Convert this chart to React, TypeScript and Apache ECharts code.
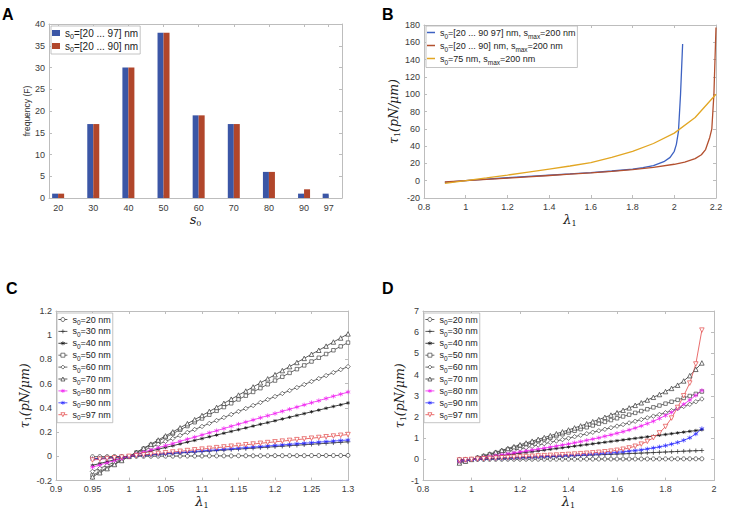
import React, { useEffect, useRef } from 'react';
import * as echarts from 'echarts';

// ---------- Panel A : histogram ----------
const aCategories = [20, 30, 40, 50, 60, 70, 80, 90, 97];
const aFreqTo97 = [1, 17, 30, 38, 19, 17, 6, 1, 1];
const aFreqTo90 = [1, 17, 30, 38, 19, 17, 6, 2, null];
const aNames = ['s0=[20 ... 97] nm', 's0=[20 ... 90] nm'];
const aYTicks = [0, 40, 5];

// ---------- Panel B : tension curves ----------
const bLamBlue = [0.9, 1.0, 1.1, 1.2, 1.3, 1.4, 1.5, 1.6, 1.7, 1.8, 1.85, 1.9, 1.95, 1.98, 2.0, 2.01, 2.02, 2.03, 2.04];
const bTauBlue = [-2, 0, 1.8, 3.4, 4.9, 6.3, 7.8, 9.4, 11.2, 13.5, 15, 17.5, 22, 27, 34, 42, 57, 100, 158];
const bLamRed = [0.9, 1.0, 1.1, 1.2, 1.3, 1.4, 1.5, 1.6, 1.7, 1.8, 1.9, 2.0, 2.05, 2.1, 2.13, 2.15, 2.17, 2.18, 2.19, 2.2];
const bTauRed = [-1.5, 0, 1.5, 3, 4.5, 6, 7.5, 9, 10.8, 12.8, 15.3, 19, 21.5, 25.5, 30, 36, 50, 60, 100, 177];
const bLamYellow = [0.9, 1.0, 1.1, 1.2, 1.3, 1.4, 1.5, 1.6, 1.7, 1.8, 1.9, 2.0, 2.1, 2.2];
const bTauYellow = [-3, 0, 3.2, 6.5, 10, 13.5, 17, 21, 27, 34, 43, 55, 73, 100];
const bNames = ['s0=[20 ... 90 97] nm, smax=200 nm', 's0=[20 ... 90] nm, smax=200 nm', 's0=75 nm, smax=200 nm'];

// ---------- Panel C : small stretch ----------
const sNames = ['s0=20 nm', 's0=30 nm', 's0=40 nm', 's0=50 nm', 's0=60 nm', 's0=70 nm', 's0=80 nm', 's0=90 nm', 's0=97 nm'];
const cLam = [0.95, 0.96, 0.97, 0.98, 0.99, 1, 1.01, 1.02, 1.03, 1.04, 1.05, 1.06, 1.07, 1.08, 1.09, 1.1, 1.11, 1.12, 1.13, 1.14, 1.15, 1.16, 1.17, 1.18, 1.19, 1.2, 1.21, 1.22, 1.23, 1.24, 1.25, 1.26, 1.27, 1.28, 1.29, 1.3];
const cS20 = [-0.003, -0.002, -0.002, -0.001, -0.001, 0, 0.001, 0.001, 0.001, 0.002, 0.002, 0.002, 0.003, 0.003, 0.003, 0.003, 0.004, 0.004, 0.004, 0.004, 0.005, 0.005, 0.005, 0.005, 0.005, 0.006, 0.006, 0.006, 0.006, 0.006, 0.007, 0.007, 0.007, 0.007, 0.007, 0.008];
const cS30 = [-0.02, -0.016, -0.012, -0.008, -0.004, 0, 0.004, 0.008, 0.012, 0.016, 0.02, 0.024, 0.028, 0.032, 0.036, 0.04, 0.044, 0.048, 0.052, 0.056, 0.06, 0.064, 0.068, 0.072, 0.076, 0.08, 0.084, 0.088, 0.092, 0.096, 0.1, 0.104, 0.108, 0.112, 0.116, 0.12];
const cS40 = [-0.074, -0.059, -0.044, -0.029, -0.015, 0, 0.015, 0.029, 0.044, 0.059, 0.074, 0.088, 0.103, 0.118, 0.132, 0.147, 0.162, 0.176, 0.191, 0.206, 0.221, 0.235, 0.25, 0.265, 0.279, 0.294, 0.309, 0.323, 0.338, 0.353, 0.368, 0.382, 0.397, 0.412, 0.426, 0.441];
const cS50 = [-0.157, -0.125, -0.094, -0.063, -0.031, 0, 0.031, 0.063, 0.094, 0.125, 0.157, 0.188, 0.219, 0.25, 0.282, 0.313, 0.344, 0.376, 0.407, 0.438, 0.47, 0.501, 0.532, 0.563, 0.595, 0.626, 0.657, 0.689, 0.72, 0.751, 0.783, 0.814, 0.845, 0.876, 0.908, 0.939];
const cS60 = [-0.124, -0.099, -0.074, -0.049, -0.025, 0, 0.025, 0.049, 0.074, 0.099, 0.124, 0.148, 0.173, 0.198, 0.222, 0.247, 0.272, 0.296, 0.321, 0.346, 0.371, 0.395, 0.42, 0.445, 0.469, 0.494, 0.519, 0.543, 0.568, 0.593, 0.618, 0.642, 0.667, 0.692, 0.716, 0.741];
const cS70 = [-0.169, -0.135, -0.101, -0.067, -0.034, 0, 0.034, 0.067, 0.101, 0.135, 0.169, 0.202, 0.236, 0.27, 0.303, 0.337, 0.371, 0.404, 0.438, 0.472, 0.506, 0.539, 0.573, 0.607, 0.64, 0.674, 0.708, 0.741, 0.775, 0.809, 0.843, 0.876, 0.91, 0.944, 0.977, 1.011];
const cS80 = [-0.089, -0.071, -0.053, -0.035, -0.018, 0, 0.018, 0.035, 0.053, 0.071, 0.089, 0.106, 0.124, 0.142, 0.159, 0.177, 0.195, 0.212, 0.23, 0.248, 0.266, 0.283, 0.301, 0.319, 0.336, 0.354, 0.372, 0.389, 0.407, 0.425, 0.443, 0.46, 0.478, 0.496, 0.513, 0.531];
const cS90 = [-0.023, -0.018, -0.014, -0.009, -0.005, 0, 0.005, 0.009, 0.014, 0.018, 0.023, 0.027, 0.032, 0.036, 0.041, 0.045, 0.05, 0.054, 0.059, 0.063, 0.068, 0.072, 0.077, 0.081, 0.086, 0.09, 0.095, 0.099, 0.104, 0.108, 0.113, 0.117, 0.122, 0.126, 0.131, 0.135];
const cS97 = [-0.03, -0.024, -0.018, -0.012, -0.006, 0, 0.006, 0.012, 0.018, 0.024, 0.03, 0.036, 0.042, 0.048, 0.054, 0.06, 0.066, 0.072, 0.078, 0.084, 0.09, 0.096, 0.102, 0.108, 0.114, 0.12, 0.126, 0.132, 0.138, 0.144, 0.15, 0.156, 0.162, 0.168, 0.174, 0.18];

// ---------- Panel D : large stretch ----------
const dLam = [0.95, 0.975, 1, 1.025, 1.05, 1.075, 1.1, 1.125, 1.15, 1.175, 1.2, 1.225, 1.25, 1.275, 1.3, 1.325, 1.35, 1.375, 1.4, 1.425, 1.45, 1.475, 1.5, 1.525, 1.55, 1.575, 1.6, 1.625, 1.65, 1.675, 1.7, 1.725, 1.75, 1.775, 1.8, 1.825, 1.85, 1.875, 1.9, 1.925, 1.95];
const dS20 = [-0.003, -0.001, 0, 0.001, 0.002, 0.003, 0.004, 0.005, 0.006, 0.006, 0.007, 0.008, 0.009, 0.01, 0.01, 0.011, 0.012, 0.013, 0.013, 0.014, 0.015, 0.016, 0.016, 0.017, 0.018, 0.018, 0.019, 0.02, 0.02, 0.021, 0.022, 0.022, 0.023, 0.024, 0.024, 0.025, 0.026, 0.026, 0.027, 0.028, 0.028];
const dS30 = [-0.02, -0.01, 0, 0.01, 0.02, 0.03, 0.04, 0.05, 0.06, 0.07, 0.08, 0.09, 0.1, 0.11, 0.12, 0.131, 0.142, 0.153, 0.164, 0.175, 0.186, 0.197, 0.208, 0.219, 0.23, 0.241, 0.252, 0.263, 0.274, 0.286, 0.298, 0.31, 0.322, 0.335, 0.348, 0.361, 0.374, 0.387, 0.4, 0.41, 0.42];
const dS40 = [-0.074, -0.037, 0, 0.037, 0.074, 0.11, 0.147, 0.184, 0.22, 0.257, 0.294, 0.33, 0.368, 0.404, 0.441, 0.478, 0.515, 0.551, 0.588, 0.625, 0.662, 0.698, 0.735, 0.772, 0.808, 0.845, 0.882, 0.92, 0.955, 0.992, 1.03, 1.066, 1.1, 1.14, 1.176, 1.213, 1.25, 1.286, 1.323, 1.36, 1.4];
const dS50 = [-0.16, -0.078, 0, 0.078, 0.157, 0.235, 0.313, 0.39, 0.47, 0.548, 0.626, 0.705, 0.783, 0.862, 0.94, 1.02, 1.1, 1.185, 1.27, 1.35, 1.43, 1.515, 1.6, 1.685, 1.77, 1.855, 1.94, 2.025, 2.11, 2.195, 2.28, 2.367, 2.455, 2.54, 2.63, 2.72, 2.81, 2.9, 2.99, 3.09, 3.2];
const dS60 = [-0.124, -0.062, 0, 0.062, 0.124, 0.185, 0.247, 0.31, 0.37, 0.432, 0.494, 0.556, 0.618, 0.68, 0.741, 0.805, 0.87, 0.935, 1.0, 1.07, 1.14, 1.21, 1.28, 1.35, 1.42, 1.495, 1.57, 1.645, 1.72, 1.8, 1.88, 1.96, 2.04, 2.12, 2.2, 2.3, 2.4, 2.5, 2.6, 2.72, 2.85];
const dS70 = [-0.17, -0.085, 0, 0.085, 0.17, 0.255, 0.34, 0.43, 0.515, 0.6, 0.69, 0.775, 0.86, 0.945, 1.03, 1.12, 1.21, 1.3, 1.39, 1.485, 1.58, 1.68, 1.78, 1.88, 1.985, 2.09, 2.2, 2.315, 2.43, 2.55, 2.67, 2.8, 2.93, 3.06, 3.2, 3.35, 3.5, 3.7, 3.95, 4.25, 4.55];
const dS80 = [-0.089, -0.044, 0, 0.044, 0.089, 0.133, 0.177, 0.221, 0.266, 0.31, 0.354, 0.4, 0.443, 0.487, 0.531, 0.58, 0.63, 0.68, 0.73, 0.785, 0.84, 0.9, 0.96, 1.02, 1.09, 1.16, 1.23, 1.31, 1.39, 1.48, 1.58, 1.69, 1.8, 1.93, 2.07, 2.22, 2.4, 2.6, 2.8, 3.02, 3.25];
const dS90 = [-0.023, -0.011, 0, 0.011, 0.023, 0.034, 0.045, 0.056, 0.068, 0.079, 0.09, 0.101, 0.113, 0.124, 0.135, 0.146, 0.158, 0.17, 0.182, 0.198, 0.214, 0.232, 0.25, 0.27, 0.29, 0.31, 0.33, 0.36, 0.39, 0.42, 0.45, 0.495, 0.54, 0.59, 0.65, 0.72, 0.8, 0.9, 1.02, 1.2, 1.45];
const dS97 = [-0.03, -0.015, 0, 0.015, 0.03, 0.045, 0.06, 0.075, 0.09, 0.105, 0.12, 0.135, 0.15, 0.165, 0.18, 0.193, 0.206, 0.22, 0.235, 0.252, 0.27, 0.29, 0.31, 0.335, 0.36, 0.39, 0.43, 0.48, 0.54, 0.62, 0.72, 0.85, 1.02, 1.25, 1.55, 1.95, 2.45, 3.0, 3.6, 4.5, 6.1];

// ---------- styling ----------
const FONT = 'Liberation Sans, Arial, Helvetica, sans-serif';
const SERIF = 'DejaVu Serif, Liberation Serif, serif';
const AXC = '#bdbdbd';
const LAB = '#3a3a3a';
const PLUS = 'path://M5,0L5,10M0,5L10,5';
const STAR = 'path://M5,0L5,10M0.7,2.5L9.3,7.5M0.7,7.5L9.3,2.5';

const markerStyles = [
  { symbol: 'circle', size: 4, color: '#333', fill: '#fff', rotate: 0 },
  { symbol: PLUS, size: 4.5, color: '#333', fill: '#333', rotate: 0 },
  { symbol: STAR, size: 3.5, color: '#111', fill: '#111', rotate: 0 },
  { symbol: 'rect', size: 3.5, color: '#444', fill: '#fff', rotate: 0 },
  { symbol: 'diamond', size: 4.5, color: '#444', fill: '#fff', rotate: 0 },
  { symbol: 'triangle', size: 4.5, color: '#333', fill: '#fff', rotate: 0 },
  { symbol: STAR, size: 4.5, color: '#f020f0', fill: '#f020f0', rotate: 0 },
  { symbol: STAR, size: 4.5, color: '#2a2aff', fill: '#2a2aff', rotate: 0 },
  { symbol: 'triangle', size: 4.5, color: '#e34848', fill: '#fff', rotate: 180 },
];

const fmtNum = (v: number) => String(+(+v).toFixed(3));
const richName = (n: string) =>
  ('{t|' + n.replace(/s(0|max)/g, 's}{b|$1}{t|') + '}').replace(/\{t\|\}/g, '');

const zip = (xs: number[], ys: (number | null)[]) =>
  xs.map((x, i) => [x, ys[i]]).filter((p) => p[1] !== null && p[1] !== undefined);

type AxCfg = {
  min: number; max: number; interval?: number; custom?: number[];
  name?: string; nameGap?: number; labelMargin?: number;
};

const xAxes: any[] = [];
const yAxes: any[] = [];

function addAxes(g: number, xc: AxCfg, yc: AxCfg) {
  const common = (pos: string, c: AxCfg, labels: boolean) => {
    const ax: any = {
      type: 'value', gridIndex: g, position: pos, min: c.min, max: c.max,
      axisLine: { show: true, onZero: false, lineStyle: { color: AXC, width: 1 } },
      axisTick: { show: true, inside: true, length: 3, lineStyle: { color: AXC, width: 1 } },
      splitLine: { show: false },
      axisLabel: {
        show: labels, fontSize: 9, color: LAB, fontFamily: FONT,
        margin: c.labelMargin ?? 4, formatter: fmtNum, showMinLabel: true, showMaxLabel: true,
      },
    };
    if (c.interval !== undefined) ax.interval = c.interval;
    if (c.custom) {
      ax.axisLabel.customValues = c.custom;
      ax.axisTick.customValues = c.custom;
    }
    return ax;
  };
  const xb = common('bottom', xc, true);
  if (xc.name) {
    xb.name = xc.name; xb.nameLocation = 'middle'; xb.nameGap = xc.nameGap;
    xb.nameTextStyle = {
      rich: {
        i: { fontFamily: SERIF, fontStyle: 'italic', fontSize: 13, color: '#222', lineHeight: 16 },
        s: { fontFamily: SERIF, fontSize: 8, color: '#222', lineHeight: 6, verticalAlign: 'bottom' },
      },
    };
  }
  const yl = common('left', yc, true);
  if (yc.name) {
    yl.name = yc.name; yl.nameLocation = 'middle'; yl.nameGap = yc.nameGap;
    yl.nameTextStyle = {
      rich: {
        i: { fontFamily: SERIF, fontStyle: 'italic', fontSize: 12.5, color: '#222', lineHeight: 16 },
        s: { fontFamily: SERIF, fontSize: 8, color: '#222', lineHeight: 6, verticalAlign: 'bottom' },
        f: { fontFamily: FONT, fontSize: 8.5, color: '#333', lineHeight: 11 },
      },
    };
  }
  xAxes.push(xb, common('top', xc, false));
  yAxes.push(yl, common('right', yc, false));
}

addAxes(0,
  { min: 17.4, max: 100.8, custom: aCategories, name: '{i|s}{s|0}', nameGap: 12, labelMargin: 5 },
  { min: aYTicks[0], max: aYTicks[1], interval: aYTicks[2], name: '{f|frequency (F)}', nameGap: 17 });
addAxes(1,
  { min: 0.8, max: 2.2, interval: 0.2, name: '{i|λ}{s|1}', nameGap: 13 },
  { min: -20, max: 180, interval: 20, name: '{i|τ}{s|1}{i|(pN/μm)}', nameGap: 15 });
addAxes(2,
  { min: 0.9, max: 1.3, interval: 0.05, name: '{i|λ}{s|1}', nameGap: 7 },
  { min: -0.2, max: 1.2, interval: 0.2, name: '{i|τ}{s|1}{i|(pN/μm)}', nameGap: 17 });
addAxes(3,
  { min: 0.8, max: 2, interval: 0.2, name: '{i|λ}{s|1}', nameGap: 7 },
  { min: -1, max: 7, interval: 1, name: '{i|τ}{s|1}{i|(pN/μm)}', nameGap: 10 });

const grids = [
  { left: 49, top: 24, width: 293, height: 174 },
  { left: 424, top: 25, width: 292, height: 173 },
  { left: 56, top: 311, width: 292, height: 174 },
  { left: 423, top: 311, width: 291, height: 174 },
];

const series: any[] = [];
const aColors = ['#3b56a6', '#b1462b'];
[aFreqTo97, aFreqTo90].forEach((f, i) => {
  series.push({
    type: 'bar', name: aNames[i], xAxisIndex: 0, yAxisIndex: 0,
    data: zip(aCategories, f), barWidth: 6, barGap: '0%',
    itemStyle: { color: aColors[i] },
  });
});
const bColors = ['#3d62c2', '#b3502f', '#e2a623'];
[[bLamBlue, bTauBlue], [bLamRed, bTauRed], [bLamYellow, bTauYellow]].forEach((d, i) => {
  series.push({
    type: 'line', name: bNames[i], xAxisIndex: 2, yAxisIndex: 2,
    data: zip(d[0] as number[], d[1] as number[]), symbol: 'none',
    lineStyle: { color: bColors[i], width: 1.3 }, itemStyle: { color: bColors[i] },
  });
});
const cData = [cS20, cS30, cS40, cS50, cS60, cS70, cS80, cS90, cS97];
const dData = [dS20, dS30, dS40, dS50, dS60, dS70, dS80, dS90, dS97];
[[cLam, cData, 4], [dLam, dData, 6]].forEach(([lam, data, axi]: any) => {
  data.forEach((ys: number[], i: number) => {
    const m = markerStyles[i];
    series.push({
      type: 'line', name: sNames[i], xAxisIndex: axi, yAxisIndex: axi,
      data: zip(lam, ys), symbol: m.symbol, symbolSize: m.size, symbolRotate: m.rotate,
      showAllSymbol: true,
      lineStyle: { color: m.color, width: 0.8 },
      itemStyle: { color: m.fill, borderColor: m.color, borderWidth: 0.7 },
    });
  });
});

const legendRich = (fs: number, lh: number) => ({
  t: { fontSize: fs, fontFamily: FONT, color: '#222', lineHeight: lh },
  b: { fontSize: fs * 0.72, fontFamily: FONT, color: '#222', lineHeight: 5, verticalAlign: 'bottom' },
});

const legendBase = {
  orient: 'vertical', backgroundColor: '#fff', borderColor: '#b5b5b5', borderWidth: 0.8,
  selectedMode: false, formatter: richName, align: 'left',
};

const legends = [
  { ...legendBase, left: 51, top: 26, data: aNames, itemWidth: 8, itemHeight: 6, itemGap: 1,
    padding: [2, 2, 1, 1], icon: 'rect', textStyle: { rich: legendRich(10, 14) } },
  { ...legendBase, left: 426, top: 26, data: bNames, itemWidth: 8, itemHeight: 1.5, itemGap: 1.5,
    padding: [2, 2, 2, 1], icon: 'rect', textStyle: { rich: legendRich(9, 14) } },
  { ...legendBase, left: 57, top: 313, data: sNames, itemWidth: 9, itemHeight: 5, itemGap: 1.4,
    padding: [2, 2, 2, 1], itemStyle: { borderWidth: 0.7 }, lineStyle: { width: 0.8 },
    textStyle: { rich: legendRich(9, 12) } },
  { ...legendBase, left: 424, top: 313, data: sNames, itemWidth: 9, itemHeight: 5, itemGap: 1.4,
    padding: [2, 2, 2, 1], itemStyle: { borderWidth: 0.7 }, lineStyle: { width: 0.8 },
    textStyle: { rich: legendRich(9, 12) } },
];

const letter = (t: string, x: number, y: number) => ({
  type: 'text', left: x, top: y,
  style: { text: t, fontSize: 16, fontWeight: 'bold', fontFamily: FONT, fill: '#000' },
});

const option: any = {
  animation: false,
  backgroundColor: '#fff',
  grid: grids,
  xAxis: xAxes,
  yAxis: yAxes,
  legend: legends,
  series,
  graphic: [letter('A', 2, 6), letter('B', 382, 6), letter('C', 6, 280), letter('D', 382, 280)],
};

export default function App() {
  const ref = useRef<HTMLDivElement>(null);
  useEffect(() => {
    if (!ref.current) return;
    const chart = echarts.init(ref.current, null, { renderer: 'svg' });
    chart.setOption(option);
    return () => chart.dispose();
  }, []);
  return (
    <div
      ref={ref}
      style={{ position: 'fixed', left: 0, top: 0, width: 750, height: 510, background: '#fff' }}
    />
  );
}
